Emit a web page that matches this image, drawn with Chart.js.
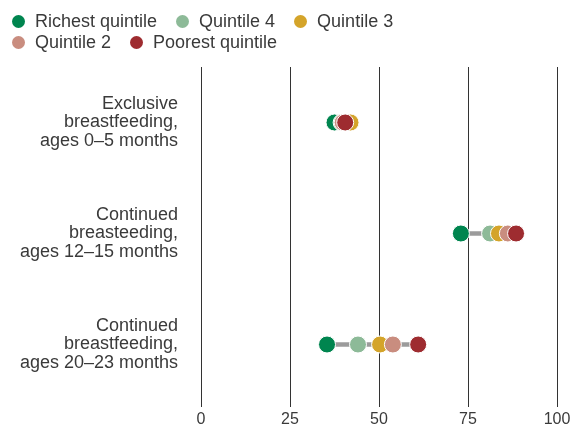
<!DOCTYPE html>
<html>
<head>
<meta charset="utf-8">
<script src="https://cdn.jsdelivr.net/npm/chart.js@4"></script>
<style>
  html, body { margin: 0; padding: 0; background: #fff; }
  #wrap { position: relative; width: 576px; height: 425px; }
  #legend { position: absolute; left: 12px; top: 11px; width: 480px; font: 18px "Liberation Sans", Arial, sans-serif; color: #3a3a3a; }
  #legend span.item { display: inline-block; margin-right: 19px; line-height: 21px; white-space: nowrap; }
  #legend i { display: inline-block; width: 13px; height: 13px; border-radius: 50%; vertical-align: -1px; margin-right: 10px; }
</style>
</head>
<body>
<div id="wrap">
  <canvas id="chart" width="576" height="425"></canvas>
  <div id="legend"></div>
</div>
<script>
categoryLines = [
  ['Exclusive', 'breastfeeding,', 'ages 0–5 months'],
  ['Continued', 'breasteeding,', 'ages 12–15 months'],
  ['Continued', 'breastfeeding,', 'ages 20–23 months']
]
categories = categoryLines.map(l => l.join(' '))
seriesNames = ['Richest quintile', 'Quintile 4', 'Quintile 3', 'Quintile 2', 'Poorest quintile']
seriesColors = ['#00854f', '#8dba98', '#d4a42a', '#c98d7f', '#9e2c30']
richest = [37.5, 73, 35.4]
quintile4 = [39.5, 81.2, 44.1]
quintile3 = [42, 83.7, 50.3]
quintile2 = [39.8, 86.2, 53.9]
poorest = [40.5, 88.5, 61]
xTicks = [0, 25, 50, 75, 100]

values = [richest, quintile4, quintile3, quintile2, poorest]

// legend (html, two rows like the original)
legend = document.getElementById('legend')
seriesNames.forEach((name, i) => {
  s = document.createElement('span')
  s.className = 'item'
  s.innerHTML = '<i style="background:' + seriesColors[i] + '"></i>' + name
  legend.appendChild(s)
  if (i == 2) legend.appendChild(document.createElement('br'))
})

datasets = []
values.forEach((vals, i) => {
  datasets.push({
    type: 'scatter',
    label: seriesNames[i],
    data: vals.map((v, j) => ({x: v, y: categories[j]})),
    backgroundColor: seriesColors[i],
    borderColor: '#fff',
    borderWidth: 1,
    pointRadius: 8.5,
    pointHoverRadius: 8.5,
    order: 5 - i
  })
})
// grey range line behind dots
categories.forEach((c, j) => {
  rowVals = values.map(v => v[j])
  datasets.push({
    type: 'line',
    label: 'range',
    data: [{x: Math.min(...rowVals), y: c}, {x: Math.max(...rowVals), y: c}],
    borderColor: '#9b9b9b',
    borderWidth: 4.5,
    pointRadius: 0,
    order: 20
  })
})

Chart.defaults.font.family = '"Liberation Sans", Arial, sans-serif'
Chart.defaults.color = '#3a3a3a'

config = {
  type: 'scatter',
  data: { labels: categories, datasets },
  options: {
    responsive: false,
    animation: false,
    layout: { padding: { top: 67, right: 19, left: 0, bottom: 0 } },
    plugins: { legend: { display: false }, tooltip: { enabled: false } },
    scales: {
      x: {
        type: 'linear',
        min: 0, max: 100,
        afterBuildTicks: s => { s.ticks = xTicks.map(v => ({value: v})) },
        afterFit: s => { s.height = 25 },
        border: { display: false },
        grid: { color: '#333', lineWidth: 1, drawTicks: true, tickLength: 7, tickColor: '#333' },
        ticks: { font: { size: 16 }, padding: 3, color: '#3a3a3a' }
      },
      y: {
        type: 'category',
        offset: true,
        afterFit: s => { s.width = 201; s.paddingTop = 0; s.paddingBottom = 0 },
        border: { display: false },
        grid: { display: false, drawTicks: false },
        ticks: {
          font: { size: 18, lineHeight: '18.5px' }, padding: 23, color: '#3a3a3a',
          callback: (v, i) => categoryLines[i]
        }
      }
    }
  }
}

new Chart(document.getElementById('chart'), config)
</script>
</body>
</html>
